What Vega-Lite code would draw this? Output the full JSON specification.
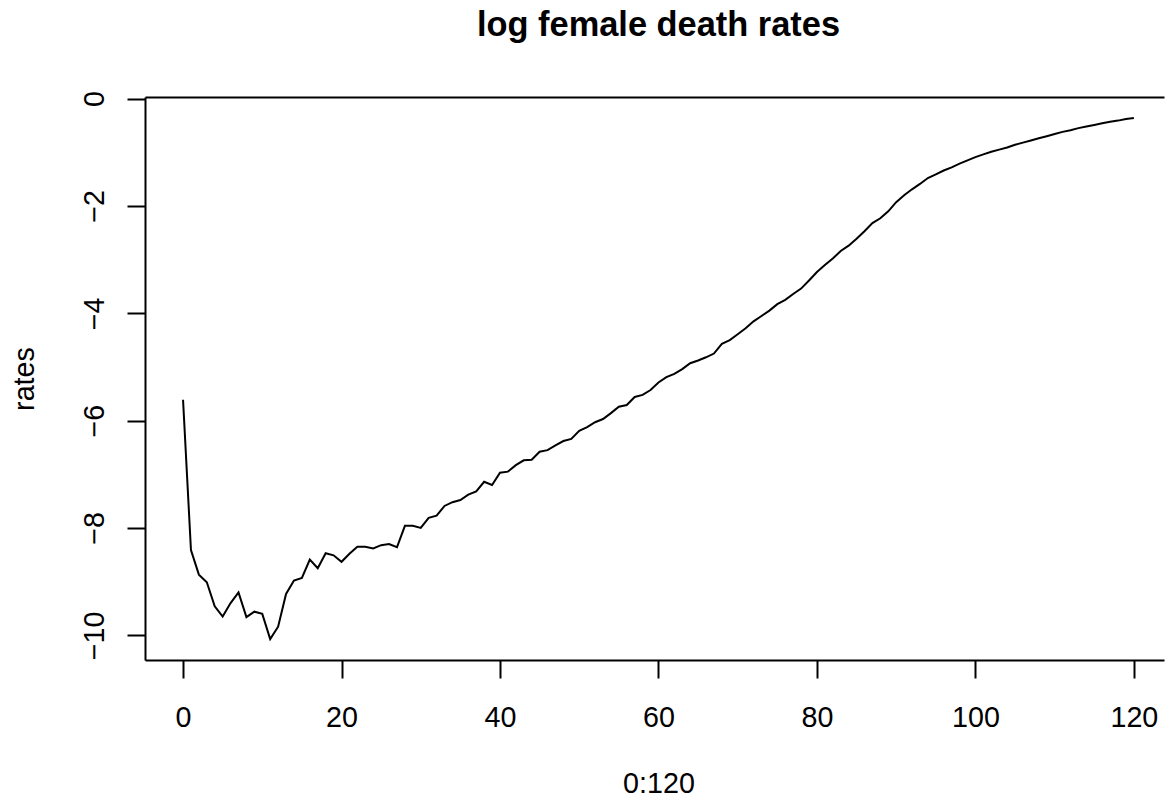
{
  "$schema": "https://vega.github.io/schema/vega-lite/v6.json",
  "width": 1019,
  "height": 563,
  "autosize": {"type": "none"},
  "padding": {"left": 145, "top": 97, "right": 1, "bottom": 139},
  "background": "white",
  "title": {
    "text": "log female death rates",
    "font": "Liberation Sans",
    "fontSize": 34.4,
    "fontWeight": "bold",
    "color": "black",
    "anchor": "middle",
    "frame": "group",
    "baseline": "alphabetic",
    "offset": 20,
    "dx": 4
  },
  "data": {
    "values": [
      {"age": 0, "rate": -5.61}, {"age": 1, "rate": -8.41}, {"age": 2, "rate": -8.87}, {"age": 3, "rate": -9.01},
      {"age": 4, "rate": -9.46}, {"age": 5, "rate": -9.65}, {"age": 6, "rate": -9.40}, {"age": 7, "rate": -9.20},
      {"age": 8, "rate": -9.66}, {"age": 9, "rate": -9.56}, {"age": 10, "rate": -9.60}, {"age": 11, "rate": -10.07},
      {"age": 12, "rate": -9.84}, {"age": 13, "rate": -9.23}, {"age": 14, "rate": -8.98}, {"age": 15, "rate": -8.93},
      {"age": 16, "rate": -8.59}, {"age": 17, "rate": -8.75}, {"age": 18, "rate": -8.47}, {"age": 19, "rate": -8.51},
      {"age": 20, "rate": -8.63}, {"age": 21, "rate": -8.48}, {"age": 22, "rate": -8.35}, {"age": 23, "rate": -8.35},
      {"age": 24, "rate": -8.38}, {"age": 25, "rate": -8.32}, {"age": 26, "rate": -8.30}, {"age": 27, "rate": -8.36},
      {"age": 28, "rate": -7.96}, {"age": 29, "rate": -7.96}, {"age": 30, "rate": -8.00}, {"age": 31, "rate": -7.81},
      {"age": 32, "rate": -7.77}, {"age": 33, "rate": -7.59}, {"age": 34, "rate": -7.52}, {"age": 35, "rate": -7.48},
      {"age": 36, "rate": -7.38}, {"age": 37, "rate": -7.32}, {"age": 38, "rate": -7.14}, {"age": 39, "rate": -7.20},
      {"age": 40, "rate": -6.97}, {"age": 41, "rate": -6.95}, {"age": 42, "rate": -6.83}, {"age": 43, "rate": -6.74},
      {"age": 44, "rate": -6.73}, {"age": 45, "rate": -6.58}, {"age": 46, "rate": -6.55}, {"age": 47, "rate": -6.46},
      {"age": 48, "rate": -6.38}, {"age": 49, "rate": -6.34}, {"age": 50, "rate": -6.19}, {"age": 51, "rate": -6.12},
      {"age": 52, "rate": -6.03}, {"age": 53, "rate": -5.97}, {"age": 54, "rate": -5.86}, {"age": 55, "rate": -5.74},
      {"age": 56, "rate": -5.71}, {"age": 57, "rate": -5.56}, {"age": 58, "rate": -5.52}, {"age": 59, "rate": -5.43},
      {"age": 60, "rate": -5.29}, {"age": 61, "rate": -5.19}, {"age": 62, "rate": -5.13}, {"age": 63, "rate": -5.04},
      {"age": 64, "rate": -4.93}, {"age": 65, "rate": -4.88}, {"age": 66, "rate": -4.82}, {"age": 67, "rate": -4.75},
      {"age": 68, "rate": -4.57}, {"age": 69, "rate": -4.50}, {"age": 70, "rate": -4.39}, {"age": 71, "rate": -4.28},
      {"age": 72, "rate": -4.15}, {"age": 73, "rate": -4.05}, {"age": 74, "rate": -3.95}, {"age": 75, "rate": -3.83},
      {"age": 76, "rate": -3.75}, {"age": 77, "rate": -3.64}, {"age": 78, "rate": -3.54}, {"age": 79, "rate": -3.39},
      {"age": 80, "rate": -3.23}, {"age": 81, "rate": -3.10}, {"age": 82, "rate": -2.98}, {"age": 83, "rate": -2.84},
      {"age": 84, "rate": -2.74}, {"age": 85, "rate": -2.61}, {"age": 86, "rate": -2.47}, {"age": 87, "rate": -2.32},
      {"age": 88, "rate": -2.23}, {"age": 89, "rate": -2.10}, {"age": 90, "rate": -1.93}, {"age": 91, "rate": -1.80},
      {"age": 92, "rate": -1.69}, {"age": 93, "rate": -1.59}, {"age": 94, "rate": -1.48}, {"age": 95, "rate": -1.41},
      {"age": 96, "rate": -1.34}, {"age": 97, "rate": -1.28}, {"age": 98, "rate": -1.21}, {"age": 99, "rate": -1.15},
      {"age": 100, "rate": -1.09}, {"age": 101, "rate": -1.04}, {"age": 102, "rate": -0.99}, {"age": 103, "rate": -0.95},
      {"age": 104, "rate": -0.91}, {"age": 105, "rate": -0.86}, {"age": 106, "rate": -0.82}, {"age": 107, "rate": -0.78},
      {"age": 108, "rate": -0.74}, {"age": 109, "rate": -0.70}, {"age": 110, "rate": -0.66}, {"age": 111, "rate": -0.62},
      {"age": 112, "rate": -0.59}, {"age": 113, "rate": -0.55}, {"age": 114, "rate": -0.52}, {"age": 115, "rate": -0.49},
      {"age": 116, "rate": -0.46}, {"age": 117, "rate": -0.43}, {"age": 118, "rate": -0.41}, {"age": 119, "rate": -0.38},
      {"age": 120, "rate": -0.36}
    ]
  },
  "layer": [
    {
      "mark": {"type": "line", "color": "black", "strokeWidth": 2},
      "encoding": {
        "x": {
          "field": "age",
          "type": "quantitative",
          "scale": {"domain": [-4.8, 123.8], "nice": false, "zero": false},
          "axis": {
            "orient": "bottom",
            "values": [0, 20, 40, 60, 80, 100, 120],
            "tickSize": 18,
            "labelPadding": 48,
            "labelBaseline": "alphabetic",
            "labelAlign": "center",
            "labelFlush": false,
            "labelOverlap": false,
            "title": "0:120",
            "titleX": 513.5,
            "titleY": 132,
            "titleAlign": "center",
            "titleBaseline": "alphabetic"
          }
        },
        "y": {
          "field": "rate",
          "type": "quantitative",
          "scale": {"domain": [-10.46, 0.03], "nice": false, "zero": false},
          "axis": {
            "orient": "left",
            "values": [-10, -8, -6, -4, -2, 0],
            "tickSize": 18,
            "labelAngle": 270,
            "labelAlign": "center",
            "labelBaseline": "alphabetic",
            "labelPadding": 24,
            "labelFlush": false,
            "labelOverlap": false,
            "title": "rates",
            "titleX": -112,
            "titleY": 281.5,
            "titleAngle": 270,
            "titleAlign": "center",
            "titleBaseline": "alphabetic"
          }
        }
      }
    },
    {
      "mark": {"type": "line", "opacity": 0},
      "encoding": {
        "x": {
          "field": "age",
          "type": "quantitative",
          "axis": {"orient": "top", "labels": false, "ticks": false, "domain": true, "title": null, "minExtent": 0, "maxExtent": 0}
        },
        "y": {"field": "rate", "type": "quantitative", "axis": null}
      }
    }
  ],
  "resolve": {"axis": {"x": "independent", "y": "independent"}},
  "config": {
    "view": {"stroke": null},
    "axis": {
      "grid": false,
      "domainColor": "black",
      "domainWidth": 2,
      "tickColor": "black",
      "tickWidth": 2,
      "labelColor": "black",
      "titleColor": "black",
      "labelFont": "Liberation Sans",
      "titleFont": "Liberation Sans",
      "labelFontSize": 28.7,
      "titleFontSize": 28.7,
      "titleFontWeight": "normal"
    }
  }
}
